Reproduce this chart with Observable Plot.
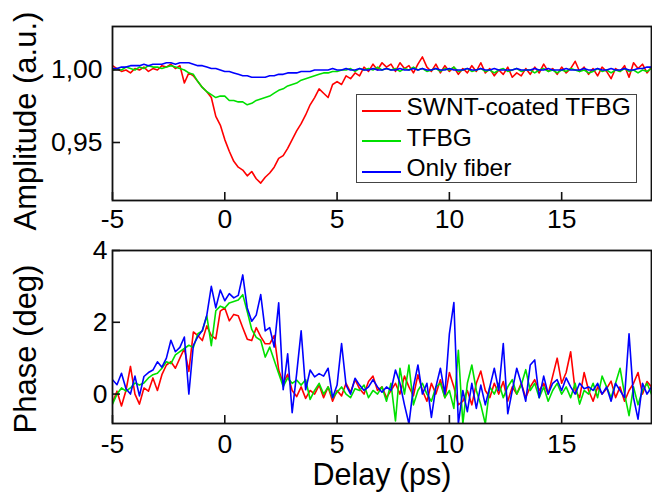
<!DOCTYPE html>
<html>
<head>
<meta charset="utf-8">
<script src="https://cdn.jsdelivr.net/npm/d3@7"></script>
<script src="https://cdn.jsdelivr.net/npm/@observablehq/plot@0.6"></script>
<style>
html, body { margin: 0; padding: 0; background: #fff; }
#chart { position: relative; width: 652px; height: 492px; overflow: hidden; font-family: "Liberation Sans", Arial, sans-serif; color: #000; background: #fff; }
#chart svg { position: absolute; left: 0; }
.title { position: absolute; white-space: nowrap; line-height: 1; font-size: 31px; transform: translate(-50%, -50%); }
.vtitle { transform: translate(-50%, -50%) rotate(-90deg); }
#legend { position: absolute; left: 356px; top: 94px; width: 281px; height: 89px; border: 1.5px solid #444; box-sizing: border-box; background: #fff; }
#legend .sw { position: absolute; left: 4.5px; width: 39px; height: 2px; }
#legend .lb { position: absolute; left: 49.5px; font-size: 24.5px; line-height: 1; white-space: nowrap; }
</style>
</head>
<body>
<div id="chart"></div>
<script>
// ---- data ----
const delay = [
  -5,-4.8,-4.6,-4.4,-4.2,-4,-3.8,-3.6,-3.4,-3.2,
  -3,-2.8,-2.6,-2.4,-2.2,-2,-1.8,-1.6,-1.4,-1.2,
  -1,-0.8,-0.6,-0.4,-0.2,0,0.2,0.4,0.6,0.8,
  1,1.2,1.4,1.6,1.8,2,2.2,2.4,2.6,2.8,
  3,3.2,3.4,3.6,3.8,4,4.2,4.4,4.6,4.8,
  5,5.2,5.4,5.6,5.8,6,6.2,6.4,6.6,6.8,
  7,7.2,7.4,7.6,7.8,8,8.2,8.4,8.6,8.8,
  9,9.2,9.4,9.6,9.8,10,10.2,10.4,10.6,10.8,
  11,11.2,11.4,11.6,11.8,12,12.2,12.4,12.6,12.8,
  13,13.2,13.4,13.6,13.8,14,14.2,14.4,14.6,14.8,
  15,15.2,15.4,15.6,15.8,16,16.2,16.4,16.6,16.8,
  17,17.2,17.4,17.6,17.8,18,18.2,18.4,18.6,18.8,
  19
];

const ampSWNT = [
  1.003,1.001,0.999,1.000,0.998,1.001,1.000,1.002,0.999,1.001,
  1.000,1.003,1.002,1.004,1.001,1.003,0.991,0.998,0.996,0.992,
  0.988,0.985,0.981,0.968,0.962,0.952,0.944,0.937,0.933,0.931,
  0.927,0.930,0.925,0.922,0.926,0.929,0.933,0.939,0.941,0.946,
  0.952,0.958,0.963,0.969,0.976,0.981,0.987,0.984,0.981,0.990,
  0.992,0.990,0.996,0.994,0.998,0.996,1.002,0.999,1.004,1.000,
  1.005,1.002,1.004,0.999,1.005,1.001,1.003,0.998,1.004,1.009,
  1.002,0.999,1.004,0.998,1.003,0.999,1.002,0.997,1.001,0.998,
  1.003,0.999,1.005,0.998,1.001,0.996,1.000,0.997,1.002,0.995,
  0.998,0.996,1.001,0.997,1.002,0.998,1.004,0.999,1.001,0.997,
  1.002,0.998,1.001,1.006,0.999,1.002,0.997,1.001,0.996,1.002,
  0.999,0.994,1.001,0.999,1.003,0.995,1.005,1.001,1.004,0.998,
  1.002
];
const ampTFBG = [
  1.000,1.001,1.000,1.002,1.001,1.000,1.002,1.001,1.003,1.002,
  1.002,1.001,1.002,1.003,1.002,1.001,1.000,0.998,0.997,0.992,
  0.988,0.985,0.983,0.981,0.982,0.982,0.979,0.979,0.978,0.978,
  0.976,0.977,0.979,0.980,0.981,0.982,0.984,0.986,0.987,0.989,
  0.990,0.991,0.993,0.994,0.995,0.996,0.997,0.998,0.998,0.999,
  0.999,1.000,1.000,1.001,0.999,1.001,1.000,1.001,1.000,1.002,
  1.000,1.001,1.000,1.001,0.999,1.001,1.000,1.002,1.000,1.001,
  0.999,1.000,1.001,0.999,1.001,1.000,1.002,0.999,1.000,1.001,
  0.999,1.000,1.001,0.999,1.000,0.998,1.000,1.001,0.999,1.000,
  1.001,0.999,1.000,1.000,0.998,1.000,1.001,0.999,1.000,0.998,
  1.000,0.999,1.001,1.000,0.999,1.000,0.998,0.999,1.001,0.999,
  1.000,0.998,1.000,0.999,1.001,0.999,1.000,0.998,1.000,0.999,
  1.001
];
const ampFiber = [
  1.001,1.001,1.002,1.002,1.003,1.003,1.003,1.004,1.003,1.004,
  1.004,1.004,1.005,1.005,1.004,1.005,1.005,1.005,1.004,1.003,
  1.003,1.002,1.001,1.001,1.000,0.999,0.999,0.998,0.997,0.996,
  0.996,0.995,0.995,0.995,0.995,0.996,0.996,0.997,0.997,0.998,
  0.998,0.998,0.999,0.999,0.999,1.000,1.000,1.000,1.000,1.001,
  1.000,1.000,1.001,1.000,1.000,1.001,1.000,1.000,1.001,1.000,
  1.000,1.001,1.000,1.000,1.001,1.000,1.000,1.001,1.000,1.001,
  1.000,1.000,1.001,1.000,1.000,1.001,1.000,1.000,1.000,1.001,
  1.000,1.000,1.001,1.000,1.000,1.001,1.000,1.000,1.000,1.000,
  1.001,1.000,1.000,1.000,1.001,1.000,1.000,1.001,1.000,1.000,
  1.000,1.001,1.000,1.000,1.000,1.001,1.000,1.000,1.001,1.000,
  1.000,1.001,1.000,1.000,1.001,1.000,1.000,1.001,1.001,1.002,
  1.002
];

const phaseSWNT = [
  -0.24,0.08,-0.33,0.1,0.77,0.0,-0.28,0.17,0.08,0.45,
  0.1,0.54,0.81,0.9,0.72,1.0,1.27,0.63,1.73,1.63,
  1.49,1.9,1.63,1.54,2.31,2.4,2.04,2.22,2.18,1.85,
  1.53,1.49,1.85,1.6,1.4,1.4,1.63,0.67,0.3,0.55,
  0.1,-0.07,0.2,-0.12,0.1,0.0,0.25,-0.1,0.2,-0.2,
  0.1,-0.05,0.3,0.05,0.4,0.15,0.0,0.35,0.5,0.1,
  0.2,-0.1,0.1,0.3,0.0,0.5,0.2,-0.05,0.54,0.1,
  -0.2,0.3,0.0,0.4,-0.1,0.6,0.2,-0.3,-0.2,0.1,
  -0.3,0.3,0.64,0.1,-0.1,0.3,0.0,0.35,-0.2,0.2,
  0.0,0.3,-0.1,0.2,0.4,0.1,0.3,0.0,0.5,1.0,
  0.3,0.6,1.18,0.1,-0.1,0.6,0.1,-0.2,0.2,0.0,
  0.15,0.36,-0.1,0.2,-0.2,0.1,0.3,0.6,0.0,0.35,
  0.2
];
const phaseTFBG = [
  -0.28,0.0,0.17,0.08,0.17,0.31,0.25,0.31,0.45,0.54,
  0.58,0.72,0.9,0.85,1.09,1.18,1.27,1.36,1.3,1.68,
  1.76,2.18,1.35,2.32,2.45,2.4,2.54,2.58,2.62,2.77,
  2.3,1.8,1.58,1.5,1.03,1.31,0.94,0.57,0.21,0.45,
  0.3,0.39,0.25,0.4,-0.15,0.1,0.3,0.0,0.2,-0.1,
  0.05,0.2,0.0,-0.1,0.15,0.1,0.25,-0.1,0.1,0.0,
  0.2,-0.2,0.3,-0.75,0.72,0.0,0.81,-0.3,0.1,0.3,
  0.0,-0.2,0.2,0.3,-0.1,0.1,-0.4,1.22,-0.83,0.3,
  0.81,0.1,-0.3,-0.83,0.2,0.0,0.3,-0.1,0.2,0.4,
  0.0,0.25,0.68,0.1,0.3,-0.1,0.2,-0.2,0.1,0.3,
  0.0,0.2,-0.1,0.3,-0.28,0.1,0.0,0.3,-0.1,0.5,
  0.2,-0.1,0.3,0.72,0.0,-0.6,0.2,-0.3,0.1,0.3,
  0.0
];
const phaseFiber = [
  0.4,0.26,0.58,0.15,0.0,0.5,-0.05,0.49,0.6,0.67,
  0.9,0.75,1.0,1.5,1.18,1.3,1.59,0.0,1.36,1.6,
  1.77,2.2,3.0,2.4,2.9,2.6,2.8,2.68,2.75,3.32,
  2.4,2.03,2.2,2.77,1.76,1.85,1.31,2.54,0.12,1.12,
  -0.52,0.57,1.76,0.12,0.67,0.48,0.57,0.5,0.72,-0.1,
  0.25,1.41,0.25,0.0,0.44,0.25,0.1,0.2,0.4,0.2,
  0.05,0.2,0.1,0.67,0.3,-0.3,-0.83,0.2,0.81,0.0,
  0.3,-0.65,0.2,0.72,0.0,1.68,2.55,-0.83,0.1,-0.49,
  0.3,-0.4,0.25,-0.3,0.2,0.72,0.1,1.41,-0.55,0.1,
  0.72,0.3,-0.2,0.81,0.95,-0.1,0.5,0.0,0.3,0.4,
  0.1,0.45,0.2,0.0,0.3,0.15,0.2,0.1,0.3,0.0,
  0.2,-0.2,0.3,0.1,-0.1,1.68,-0.1,-0.7,0.3,0.0,
  0.2
];

const seriesNames = ["SWNT-coated TFBG", "TFBG", "Only fiber"];
const seriesColors = ["#ff0000", "#00e000", "#0000ff"];
const xTicks = [-5, 0, 5, 10, 15];
const ampTicks = [0.95, 1.00];
const phaseTicks = [0, 2, 4];

// ---- build tables ----
function longTable(arrays) {
  const rows = [];
  arrays.forEach((arr, s) => arr.forEach((v, i) => rows.push({delay: delay[i], value: v, series: seriesNames[s]})));
  return rows;
}
const ampData = longTable([ampSWNT, ampTFBG, ampFiber]);
const phaseData = longTable([phaseSWNT, phaseTFBG, phaseFiber]);

const W = 652;
const ML = 112, MR = 1;
const plotW = W - ML - MR;
const font = "Liberation Sans, Arial, sans-serif";
const commaFmt = d => d.toFixed(2).replace(".", ",");

function panel({data, height, marginTop, marginBottom, yDomain, yTicks, yFmt, xPad, yPad}) {
  const plotH = height - marginTop - marginBottom;
  return Plot.plot({
    width: W, height,
    marginLeft: ML, marginRight: MR, marginTop, marginBottom,
    style: {fontFamily: font, background: "transparent", color: "#000"},
    x: {domain: [-5, 19], label: null},
    y: {domain: yDomain, label: null},
    color: {domain: seriesNames, range: seriesColors},
    marks: [
      Plot.line(data, {x: "delay", y: "value", z: "series", stroke: "series", strokeWidth: 1.6, clip: true}),
      Plot.tickX(xTicks, {x: d => d, insetTop: plotH - 8, stroke: "#111", strokeWidth: 1.6}),
      Plot.tickY(yTicks, {y: d => d, insetRight: plotW - 8, stroke: "#111", strokeWidth: 1.6}),
      Plot.axisX(xTicks, {tickSize: 0, tickPadding: xPad, fontSize: 26.5, tickFormat: d => String(d), label: null}),
      Plot.axisY(yTicks, {tickSize: 0, tickPadding: yPad, fontSize: 26.5, tickFormat: yFmt, label: null}),
      Plot.frame({stroke: "#111", strokeWidth: 1.8})
    ]
  });
}

const chart = document.getElementById("chart");

const topPlot = panel({data: ampData, height: 235, marginTop: 26, marginBottom: 35,
  yDomain: [0.91, 1.03], yTicks: ampTicks, yFmt: commaFmt, xPad: 9, yPad: 10});
topPlot.style.top = "0px";
chart.appendChild(topPlot);

const botPlot = panel({data: phaseData, height: 257, marginTop: 15, marginBottom: 69,
  yDomain: [-0.82, 4], yTicks: phaseTicks, yFmt: d => String(d), xPad: 11, yPad: 5});
botPlot.style.top = "235px";
chart.appendChild(botPlot);

// ---- axis titles ----
function addTitle(text, left, top, vertical, size) {
  const d = document.createElement("div");
  d.className = "title" + (vertical ? " vtitle" : "");
  d.textContent = text;
  d.style.left = left + "px";
  d.style.top = top + "px";
  if (size) d.style.fontSize = size + "px";
  chart.appendChild(d);
}
addTitle("Amplitude (a.u.)", 25, 121, true);
addTitle("Phase (deg)", 25, 349, true);
addTitle("Delay (ps)", 382, 474, false, 30.5);

// ---- legend ----
const legend = document.createElement("div");
legend.id = "legend";
seriesNames.forEach((name, i) => {
  const y = 15.5 + 30.5 * i;
  const sw = document.createElement("div");
  sw.className = "sw";
  sw.style.top = (y - 1) + "px";
  sw.style.background = seriesColors[i];
  legend.appendChild(sw);
  const lb = document.createElement("div");
  lb.className = "lb";
  lb.textContent = name;
  lb.style.top = (y - 15.5) + "px";
  legend.appendChild(lb);
});
chart.appendChild(legend);
</script>
</body>
</html>
